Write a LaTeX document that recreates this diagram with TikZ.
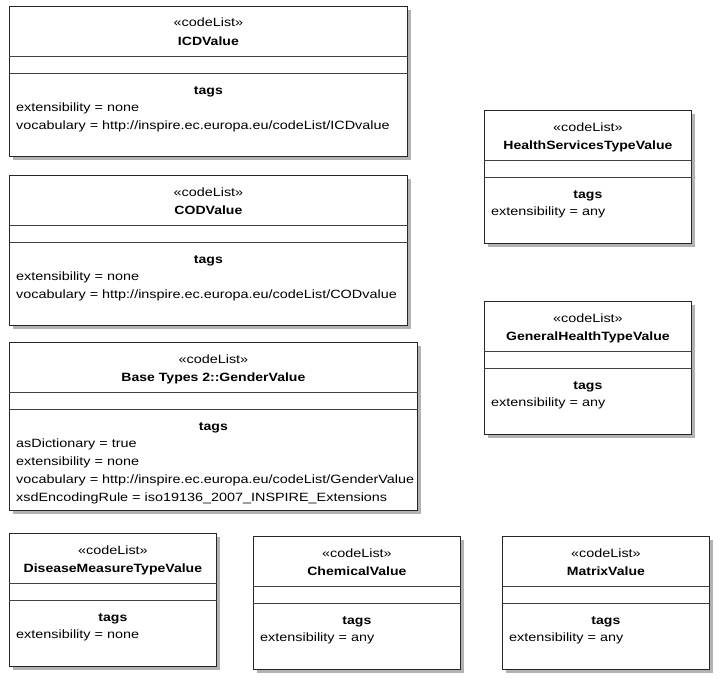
\documentclass[tikz,border=0pt]{standalone}
\usepackage{fontspec}
\setmainfont{Liberation Sans}[FakeStretch=1.2, BoldFeatures={FakeStretch=1.17}]
\usetikzlibrary{shadows}

\tikzset{
  classbox/.style={draw=black!85, line width=0.8pt, fill=white, rectangle,
    anchor=north west, inner sep=0pt,
    drop shadow={shadow xshift=4pt, shadow yshift=-4pt, fill=black!30, opacity=1}},
  compline/.style={draw=black!75, line width=0.8pt},
  stereo/.style={anchor=base, inner sep=0pt, font=\fontsize{12}{14}\selectfont},
  classname/.style={anchor=base, inner sep=0pt, font=\fontsize{12}{14}\selectfont\bfseries},
  tagline/.style={anchor=base west, inner sep=0pt, font=\fontsize{12}{14}\selectfont},
}

% #1 name, #2 x, #3 y, #4 width, #5 height, #6 title, #7 tag lines
\newcommand{\codelistbox}[7]{
  \node[classbox, minimum width=#4pt, minimum height=#5pt] (#1) at (#2,#3) {};
  \draw[compline] ([yshift=-50.5pt]#1.north west) -- ([yshift=-50.5pt]#1.north east);
  \draw[compline] ([yshift=-67.5pt]#1.north west) -- ([yshift=-67.5pt]#1.north east);
  \node[stereo] (#1-st) at ([yshift=-21pt]#1.north) {«codeList»};
  \node[classname] (#1-name) at ([yshift=-39pt]#1.north) {#6};
  \node[classname] (#1-tags) at ([yshift=-88pt]#1.north) {tags};
  \foreach \tg [count=\i, evaluate=\i as \dy using 105+18*(\i-1)] in {#7}
    \node[tagline] (#1-t\i) at ([xshift=7pt, yshift=-\dy pt]#1.north west) {\tg};
}

\begin{document}
\begin{tikzpicture}[x=1pt, y=-1pt]
  \useasboundingbox (0,0) rectangle (722,680);

  % left column
  \codelistbox{icd}{9}{6}{398}{150}{ICDValue}
    {extensibility = none, vocabulary = http://inspire.ec.europa.eu/codeList/ICDvalue}
  \codelistbox{cod}{9}{175}{398}{150}{CODValue}
    {extensibility = none, vocabulary = http://inspire.ec.europa.eu/codeList/CODvalue}
  \codelistbox{gender}{9}{342}{408}{168}{Base Types 2::GenderValue}
    {asDictionary = true, extensibility = none,
     vocabulary = http://inspire.ec.europa.eu/codeList/GenderValue,
     xsdEncodingRule = iso19136\_2007\_INSPIRE\_Extensions}

  % right column
  \codelistbox{hst}{484}{110}{207}{133}{HealthServicesTypeValue}{extensibility = any}
  \codelistbox{ght}{484}{301}{207}{133}{GeneralHealthTypeValue}{extensibility = any}

  % bottom row
  \codelistbox{dmt}{9}{533}{207}{133}{DiseaseMeasureTypeValue}{extensibility = none}
  \codelistbox{chem}{253}{536}{207}{133}{ChemicalValue}{extensibility = any}
  \codelistbox{matrix}{502}{536}{207}{133}{MatrixValue}{extensibility = any}
\end{tikzpicture}
\end{document}
